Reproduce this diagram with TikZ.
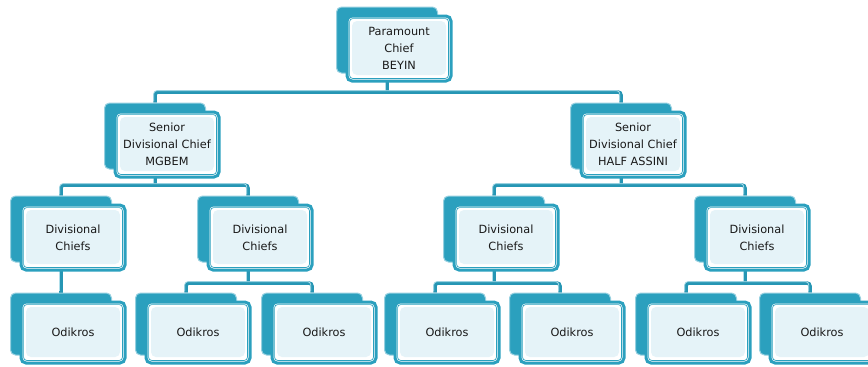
\documentclass[tikz,border=0pt]{standalone}
\usepackage{fontspec}
\setmainfont{DejaVu Sans}
\usetikzlibrary{positioning,backgrounds}
\definecolor{boxteal}{RGB}{43,160,190}
\definecolor{edgeteal}{RGB}{150,208,224}
\definecolor{linkteal}{RGB}{38,150,180}
\definecolor{linklight}{RGB}{175,222,234}
\definecolor{dotfill}{RGB}{229,243,248}
\definecolor{inkgray}{RGB}{25,25,25}
\tikzset{
  back/.style={draw=edgeteal, fill=boxteal, line width=1pt, rounded corners=5pt,
    minimum width=101pt, minimum height=66pt, inner sep=0pt},
  front/.style={draw=boxteal, fill=white, line width=3pt, rounded corners=5pt,
    minimum width=104pt, minimum height=65pt, inner sep=0pt, align=center,
    text=inkgray, font=\fontsize{11.3}{17}\selectfont,
    path picture={
      \draw[boxteal, line width=0.7pt, rounded corners=3pt]
        ([shift={(2.6pt,2.6pt)}]path picture bounding box.south west) rectangle
        ([shift={(-2.6pt,-2.6pt)}]path picture bounding box.north east);
      \fill[dotfill]
        ([shift={(5pt,6pt)}]path picture bounding box.south west) rectangle
        ([shift={(-5pt,-5pt)}]path picture bounding box.north east);}},
  leafback/.style={back, minimum height=62pt},
  leaf/.style={front, minimum height=61pt},
  link/.style={draw=linkteal, line width=3.5pt, rounded corners=3pt,
    postaction={draw=linklight, line width=0.8pt,
      transform canvas={shift={(-1.3pt,1.3pt)}}}}
}
\begin{document}
\begin{tikzpicture}[x=1pt,y=-1pt]
\useasboundingbox (0,0) rectangle (868,367);

\node (PCb) [back] at (387,40) {};
\node (PC) [front] at ([shift={(12,8.5)}]PCb.center) {Paramount\\Chief\\BEYIN};

\node (SMGb) [back] at (155,136) {};
\node (SMG) [front] at ([shift={(12,8.5)}]SMGb.center) {Senior\\Divisional Chief\\MGBEM};
\node (SHAb) [back] at (621,136) {};
\node (SHA) [front] at ([shift={(12,8.5)}]SHAb.center) {Senior\\Divisional Chief\\HALF ASSINI};

\node (DC1b) [back] at (61,229) {};
\node (DC1) [front] at ([shift={(12,8.5)}]DC1b.center) {Divisional\\Chiefs};
\node (DC2b) [back] at (248,229) {};
\node (DC2) [front] at ([shift={(12,8.5)}]DC2b.center) {Divisional\\Chiefs};
\node (DC3b) [back] at (494,229) {};
\node (DC3) [front] at ([shift={(12,8.5)}]DC3b.center) {Divisional\\Chiefs};
\node (DC4b) [back] at (745,229) {};
\node (DC4) [front] at ([shift={(12,8.5)}]DC4b.center) {Divisional\\Chiefs};

\foreach \i/\x in {1/61,2/186,3/312,4/435,5/560,6/686,7/810} {
  \node (OD\i b) [leafback] at (\x,324) {};
  \node (OD\i) [leaf] at ([shift={(12,8.5)}]OD\i b.center) {Odikros};
}

\begin{scope}[on background layer]
\draw[link] (PCb.center) -- ++(0,52) coordinate (bus0);
\draw[link] (SMGb.north) |- (bus0) -| (SHAb.north);

\draw[link] (SMGb.center) -- ++(0,49) coordinate (bus1);
\draw[link] (DC1b.north) |- (bus1) -| (DC2b.north);
\draw[link] (SHAb.center) -- ++(0,49) coordinate (bus2);
\draw[link] (DC3b.north) |- (bus2) -| (DC4b.north);

\draw[link] (DC1b.center) -- (OD1b.north);
\draw[link] (DC2b.center) -- ++(0,54) coordinate (bus3);
\draw[link] (OD2b.north) |- (bus3) -| (OD3b.north);
\draw[link] (DC3b.center) -- ++(0,54) coordinate (bus4);
\draw[link] (OD4b.north) |- (bus4) -| (OD5b.north);
\draw[link] (DC4b.center) -- ++(0,54) coordinate (bus5);
\draw[link] (OD6b.north) |- (bus5) -| (OD7b.north);
\end{scope}
\end{tikzpicture}
\end{document}
